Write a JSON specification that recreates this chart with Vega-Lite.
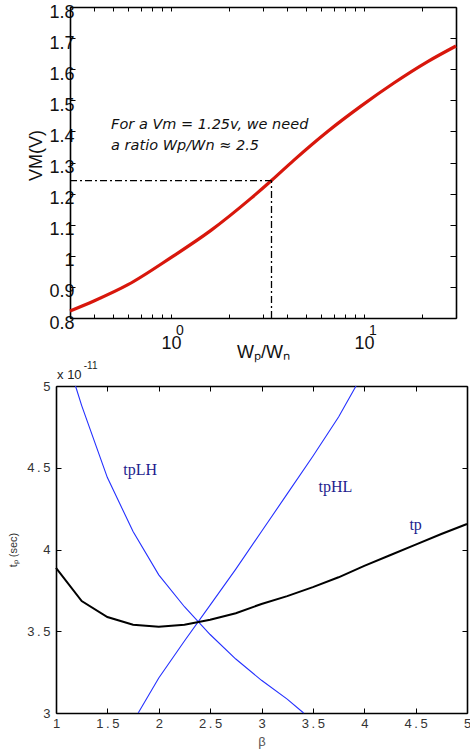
{
  "$schema": "https://vega.github.io/schema/vega-lite/v6.json",
  "padding": {"left": 7, "top": 3, "right": 4, "bottom": 2},
  "background": "white",
  "spacing": 0,
  "config": {
    "view": {"stroke": null},
    "axis": {"grid": false, "domainColor": "black", "tickColor": "black", "labelFont": "Liberation Sans", "titleFont": "Liberation Sans", "labelOverlap": false, "labelFlush": false, "titleFontWeight": "normal"}
  },
  "vconcat": [
    {
      "width": 400,
      "height": 311,
      "resolve": {"axis": {"x": "independent", "y": "independent"}},
      "layer": [
        {
          "data": {"values": [
            {"ratio": 0.3, "vm": 0.8225},
            {"ratio": 0.399, "vm": 0.8547},
            {"ratio": 0.599, "vm": 0.9071},
            {"ratio": 1.0, "vm": 0.9942},
            {"ratio": 1.612, "vm": 1.0817},
            {"ratio": 2.597, "vm": 1.1846},
            {"ratio": 3.32, "vm": 1.242},
            {"ratio": 4.34, "vm": 1.3077},
            {"ratio": 6.51, "vm": 1.4006},
            {"ratio": 9.65, "vm": 1.4813},
            {"ratio": 14.3, "vm": 1.5556},
            {"ratio": 21.4, "vm": 1.6244},
            {"ratio": 30, "vm": 1.6746}
          ]},
          "mark": {"type": "line", "color": "#d8170c", "strokeWidth": 3.2, "interpolate": "monotone"},
          "encoding": {
            "x": {"field": "ratio", "type": "quantitative",
              "scale": {"type": "log", "domain": [0.3, 30], "range": [14, 400], "nice": false},
              "axis": {"orient": "bottom", "values": [0.3,0.4,0.5,0.6,0.7,0.8,0.9,1,2,3,4,5,6,7,8,9,10,20,30],
                "labelExpr": "datum.value == 1 || datum.value == 10 ? '10' : ''",
                "tickSize": -4, "domainWidth": 1.6, "labelFontSize": 18, "labelColor": "#111", "labelPadding": 20,
                "title": "Wₚ/Wₙ", "titleFontSize": 18, "titleColor": "#111", "titleBaseline": "middle", "titleY": 34}},
            "y": {"field": "vm", "type": "quantitative",
              "scale": {"domain": [0.8, 1.8], "nice": false, "zero": false},
              "axis": {"orient": "left", "offset": -14, "values": [0.8,0.9,1.0,1.1,1.2,1.3,1.4,1.5,1.6,1.7,1.8], "format": "~g",
                "tickSize": -5, "domainWidth": 1.6, "labelFontSize": 18, "labelColor": "#111", "labelPadding": 1, "labelOffset": 5,
                "title": "VM(V)", "titleFontSize": 18, "titleColor": "#111", "titleAngle": -90, "titleAlign": "center", "titleBaseline": "middle", "titleX": -34, "titleY": 148}}
          }
        },
        {
          "data": {"values": [
            {"x1": 0.3, "x2": 3.32, "y1": 1.242, "y2": 1.242},
            {"x1": 3.32, "x2": 3.32, "y1": 0.8, "y2": 1.242}
          ]},
          "mark": {"type": "rule", "color": "black", "strokeWidth": 1.3, "strokeDash": [7, 3, 2, 3]},
          "encoding": {
            "x": {"field": "x1", "type": "quantitative", "axis": {"orient": "top", "labels": false, "title": null, "tickSize": -4, "domainWidth": 1.6, "values": [0.3,0.4,0.5,0.6,0.7,0.8,0.9,1,2,3,4,5,6,7,8,9,10,20,30]}},
            "x2": {"field": "x2"},
            "y": {"field": "y1", "type": "quantitative", "axis": {"orient": "right", "labels": false, "title": null, "tickSize": -6, "domainWidth": 1.6, "values": [0.8,0.9,1.0,1.1,1.2,1.3,1.4,1.5,1.6,1.7,1.8]}},
            "y2": {"field": "y2"}
          }
        },
        {
          "data": {"values": [
            {"x": 0.49, "y": 1.42, "t": "For a Vm = 1.25v, we need"},
            {"x": 0.49, "y": 1.353, "t": "a ratio Wp/Wn ≈ 2.5"}
          ]},
          "mark": {"type": "text", "align": "left", "baseline": "middle", "font": "DejaVu Sans", "fontStyle": "italic", "fontSize": 14.5, "color": "#111"},
          "encoding": {
            "x": {"field": "x", "type": "quantitative", "axis": null},
            "y": {"field": "y", "type": "quantitative", "axis": null},
            "text": {"field": "t"}
          }
        },
        {
          "data": {"values": [
            {"x": 1, "y": 0.8, "e": "0"},
            {"x": 10, "y": 0.8, "e": "1"}
          ]},
          "mark": {"type": "text", "align": "center", "baseline": "middle", "font": "Liberation Sans", "fontSize": 14, "color": "#111", "dx": 9, "dy": 13, "clip": false},
          "encoding": {
            "x": {"field": "x", "type": "quantitative", "axis": null},
            "y": {"field": "y", "type": "quantitative", "axis": null},
            "text": {"field": "e"}
          }
        }
      ]
    },
    {
      "width": 411,
      "height": 327,
      "resolve": {"axis": {"x": "independent", "y": "independent"}},
      "layer": [
        {
          "data": {"values": [
            {"curve": "tpLH", "beta": 1.19, "t": 5.0},
            {"curve": "tpLH", "beta": 1.25, "t": 4.88},
            {"curve": "tpLH", "beta": 1.5, "t": 4.44},
            {"curve": "tpLH", "beta": 1.75, "t": 4.11},
            {"curve": "tpLH", "beta": 2.0, "t": 3.845},
            {"curve": "tpLH", "beta": 2.25, "t": 3.65},
            {"curve": "tpLH", "beta": 2.5, "t": 3.48},
            {"curve": "tpLH", "beta": 2.75, "t": 3.33},
            {"curve": "tpLH", "beta": 3.0, "t": 3.2},
            {"curve": "tpLH", "beta": 3.25, "t": 3.085},
            {"curve": "tpLH", "beta": 3.41, "t": 3.0},
            {"curve": "tpHL", "beta": 1.8, "t": 3.0},
            {"curve": "tpHL", "beta": 2.0, "t": 3.214},
            {"curve": "tpHL", "beta": 2.25, "t": 3.44},
            {"curve": "tpHL", "beta": 2.5, "t": 3.66},
            {"curve": "tpHL", "beta": 2.75, "t": 3.88},
            {"curve": "tpHL", "beta": 3.0, "t": 4.11},
            {"curve": "tpHL", "beta": 3.25, "t": 4.34},
            {"curve": "tpHL", "beta": 3.5, "t": 4.57},
            {"curve": "tpHL", "beta": 3.75, "t": 4.81},
            {"curve": "tpHL", "beta": 3.92, "t": 5.0}
          ]},
          "mark": {"type": "line", "color": "#2430ff", "strokeWidth": 1.1},
          "encoding": {
            "detail": {"field": "curve"},
            "x": {"field": "beta", "type": "quantitative",
              "scale": {"domain": [1, 5], "nice": false, "zero": false},
              "axis": {"orient": "bottom", "values": [1,1.5,2,2.5,3,3.5,4,4.5,5], "format": "~g",
                "labelExpr": "replace(datum.label, '.', '\u2009.\u2009')",
                "tickSize": -5, "domainWidth": 1.6, "labelFontSize": 13, "labelColor": "#333", "labelPadding": 9,
                "title": "β", "titleFontSize": 13, "titleColor": "#555", "titlePadding": 5}},
            "y": {"field": "t", "type": "quantitative",
              "scale": {"domain": [3, 5], "nice": false, "zero": false},
              "axis": {"orient": "left", "values": [3,3.5,4,4.5,5], "format": "~g",
                "labelExpr": "replace(datum.label, '.', '\u2009.\u2009')",
                "tickSize": -5, "domainWidth": 1.6, "labelFontSize": 13, "labelColor": "#333", "labelPadding": 11,
                "title": "tₚ (sec)", "titleFontSize": 11, "titleColor": "#333", "titlePadding": 8}}
          }
        },
        {
          "data": {"values": [
            {"beta": 1.0, "t": 3.887},
            {"beta": 1.25, "t": 3.685},
            {"beta": 1.5, "t": 3.587},
            {"beta": 1.75, "t": 3.54},
            {"beta": 2.0, "t": 3.527},
            {"beta": 2.25, "t": 3.54},
            {"beta": 2.5, "t": 3.57},
            {"beta": 2.75, "t": 3.61},
            {"beta": 3.0, "t": 3.667},
            {"beta": 3.25, "t": 3.715},
            {"beta": 3.5, "t": 3.77},
            {"beta": 3.75, "t": 3.83},
            {"beta": 4.0, "t": 3.9},
            {"beta": 4.25, "t": 3.965},
            {"beta": 4.5, "t": 4.03},
            {"beta": 4.75, "t": 4.095},
            {"beta": 5.0, "t": 4.156}
          ]},
          "mark": {"type": "line", "color": "black", "strokeWidth": 2},
          "encoding": {
            "x": {"field": "beta", "type": "quantitative", "axis": {"orient": "top", "labels": false, "title": null, "tickSize": -5, "domainWidth": 1.6, "values": [1,1.5,2,2.5,3,3.5,4,4.5,5]}},
            "y": {"field": "t", "type": "quantitative", "axis": {"orient": "right", "labels": false, "title": null, "tickSize": -5, "domainWidth": 1.6, "values": [3,3.5,4,4.5,5]}}
          }
        },
        {
          "data": {"values": [
            {"beta": 1.82, "t": 4.486, "label": "tpLH"},
            {"beta": 3.72, "t": 4.38, "label": "tpHL"},
            {"beta": 4.5, "t": 4.15, "label": "tp"}
          ]},
          "mark": {"type": "text", "align": "center", "baseline": "middle", "font": "Liberation Serif", "fontSize": 16, "color": "#1e1e8e"},
          "encoding": {
            "x": {"field": "beta", "type": "quantitative", "axis": null},
            "y": {"field": "t", "type": "quantitative", "axis": null},
            "text": {"field": "label"}
          }
        },
        {
          "data": {"values": [
            {"beta": 1.01, "t": 5.067, "s": "x 10", "size": "big"},
            {"beta": 1.27, "t": 5.122, "s": "-11", "size": "small"}
          ]},
          "mark": {"type": "text", "align": "left", "baseline": "middle", "font": "Liberation Sans", "color": "#222", "clip": false},
          "encoding": {
            "x": {"field": "beta", "type": "quantitative", "axis": null},
            "y": {"field": "t", "type": "quantitative", "axis": null},
            "text": {"field": "s"},
            "size": {"field": "size", "type": "nominal", "scale": {"domain": ["big", "small"], "range": [13, 10]}, "legend": null}
          }
        }
      ]
    }
  ]
}
